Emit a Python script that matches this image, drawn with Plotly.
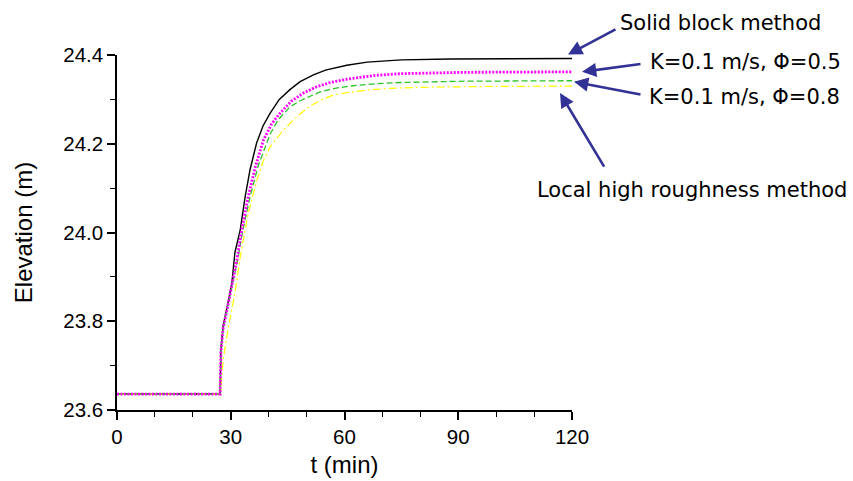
import plotly.graph_objects as go

# Water level at the gauge (m) vs. time (min) for four obstruction models
t_solid = [0, 27.2, 27.4, 28.0, 29.0, 30.3, 31.1, 32.5, 33.8, 35.1, 36.8, 38.5, 40.4,
           42.8, 45.6, 48.3, 51.8, 55.0, 60.6, 66.0, 75.0, 88.0, 120.0]
z_solid = [23.636, 23.636, 23.735, 23.790, 23.830, 23.886, 23.955, 24.006, 24.081,
           24.142, 24.201, 24.240, 24.269, 24.300, 24.322, 24.340, 24.355, 24.366,
           24.377, 24.384, 24.389, 24.391, 24.392]

t_phi05 = [0, 27.2, 27.4, 28.0, 29.0, 30.3, 31.6, 32.9, 34.6, 36.4, 38.6, 40.8, 43.0,
           46.0, 49.1, 52.5, 56.2, 61.0, 68.0, 75.0, 92.0, 120.0]
z_phi05 = [23.636, 23.636, 23.730, 23.785, 23.825, 23.880, 23.938, 24.006, 24.081,
           24.145, 24.208, 24.245, 24.269, 24.296, 24.314, 24.328, 24.338, 24.346,
           24.354, 24.358, 24.361, 24.362]

t_phi08 = [0, 27.2, 27.4, 28.0, 29.0, 30.3, 31.8, 33.2, 35.1, 37.3, 40.4, 42.5, 45.6,
           48.3, 50.9, 53.6, 57.5, 61.5, 68.0, 74.7, 92.0, 120.0]
z_phi08 = [23.636, 23.636, 23.730, 23.785, 23.825, 23.878, 23.938, 24.006, 24.081,
           24.152, 24.222, 24.254, 24.283, 24.297, 24.306, 24.317, 24.325, 24.330,
           24.335, 24.338, 24.341, 24.342]

t_rough = [0, 27.4, 27.5, 28.0, 29.4, 31.1, 32.5, 34.6, 36.9, 38.6, 40.4, 43.9, 47.4,
           50.9, 54.0, 57.1, 61.5, 65.9, 72.0, 79.1, 96.6, 120.0]
z_rough = [23.636, 23.636, 23.660, 23.713, 23.788, 23.863, 23.945, 24.043, 24.118,
           24.162, 24.193, 24.231, 24.261, 24.285, 24.299, 24.310, 24.316, 24.321,
           24.325, 24.327, 24.329, 24.330]

labels = ["Solid block method", "K=0.1 m/s, Φ=0.5", "K=0.1 m/s, Φ=0.8",
          "Local high roughness method"]

ARROW = "#323296"
fig = go.Figure()

fig.add_trace(go.Scatter(x=t_solid, y=z_solid, mode="lines", name=labels[0],
                         line=dict(color="black", width=1.4)))
fig.add_trace(go.Scatter(x=t_rough, y=z_rough, mode="lines", name=labels[3],
                         line=dict(color="#FFFF00", width=1.2, dash="8px,3px,2px,3px")))
fig.add_trace(go.Scatter(x=t_phi08, y=z_phi08, mode="lines", name=labels[2],
                         line=dict(color="#2BC42B", width=1.3, dash="6px,3px")))
fig.add_trace(go.Scatter(x=t_phi05, y=z_phi05, mode="lines", name=labels[1],
                         line=dict(color="#FF00FF", width=2.8, dash="2px,1.5px")))

# Arrows pointing at each curve's end: (x, y, xshift, yshift, tail dx, tail dy)
series_ends = [
    (t_solid[-1], z_solid[-1], -4, 4, 49, -26),
    (t_phi05[-1], z_phi05[-1], 10, 0, 60, -8),
    (t_phi08[-1], z_phi08[-1], 2, -1, 68, 13),
    (t_rough[-1], z_rough[-1], -12, -7, 45, 75),
]
for (xe, ye, xs, ys, ax, ay) in series_ends:
    fig.add_annotation(x=xe, y=ye, xref="x", yref="y", text="", showarrow=True,
                       xshift=xs, yshift=ys, ax=ax, ay=ay, axref="pixel", ayref="pixel",
                       arrowhead=2, arrowsize=1.1, arrowwidth=2.6, arrowcolor=ARROW,
                       standoff=0, startstandoff=0)

# Label anchors in pixels (left edge, vertical centre), converted to paper units
label_px = [(618, 23), (648, 62), (647, 97), (535, 190)]
for text, (px, py) in zip(labels, label_px):
    fig.add_annotation(x=(px - 117) / 455, y=(410 - py) / 355, xref="paper", yref="paper",
                       text=text, showarrow=False, xanchor="left", yanchor="middle",
                       font=dict(family="DejaVu Sans", size=21, color="black"))

axis_common = dict(showgrid=False, zeroline=False, showline=True, linecolor="black",
                   linewidth=1.5, ticks="outside", ticklen=8, tickwidth=1.5,
                   tickcolor="black", mirror=False, automargin=False,
                   tickfont=dict(family="Liberation Sans", size=20.5, color="black"),
                   title_font=dict(family="Liberation Sans", size=24, color="black"))

fig.update_xaxes(range=[0, 120], tick0=0, dtick=30,
                 minor=dict(dtick=10, ticks="outside", ticklen=5, tickwidth=1.2,
                            tickcolor="black"),
                 title_text="t (min)", title_standoff=9, **axis_common)
fig.update_yaxes(range=[23.6, 24.4], tick0=23.6, dtick=0.2, tickformat=".1f",
                 minor=dict(dtick=0.1, ticks="outside", ticklen=5, tickwidth=1.2,
                            tickcolor="black"),
                 title_text="Elevation (m)", title_standoff=24, **axis_common)

fig.update_layout(width=853, height=481, showlegend=False,
                  plot_bgcolor="white", paper_bgcolor="white",
                  margin=dict(l=117, r=281, t=55, b=71))

fig.write_html("out.html")
